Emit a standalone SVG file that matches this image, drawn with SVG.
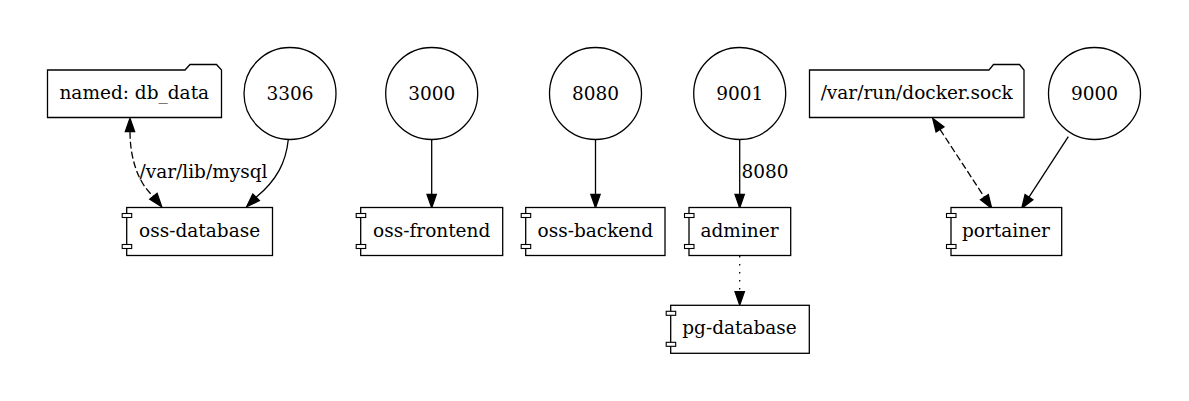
<svg xmlns="http://www.w3.org/2000/svg" width="1189" height="401" viewBox="0 0 1189 401">
<style>
  .bg { fill: #ffffff; }
  .shape { fill: #ffffff; stroke: #000000; stroke-width: 1.3; }
  .tab { fill: #ffffff; stroke: #000000; stroke-width: 1.1; }
  .edge { fill: none; stroke: #000000; stroke-width: 1.3; }
  .dashed { stroke-dasharray: 7 3; }
  .dotted { stroke-dasharray: 1.4 6.6; }
  .head { fill: #000000; stroke: #000000; stroke-width: 1.3; }
  text { font-family: "DejaVu Serif", "Liberation Serif", serif; font-size: 18.5px; fill: #000000; }
  .c { text-anchor: middle; }
</style>
<rect class="bg" x="0" y="0" width="1189" height="401"/>

<g id="connectors">
  <!-- db_data <-> oss-database -->
  <g id="e-dbdata-ossdb">
    <path class="edge dashed" d="M130,131.6 C130,158 138,183 153.4,196.3"/>
    <polygon class="head" points="134.67,131.6 130,118.3 125.33,131.6"/>
    <polygon class="head" points="149.77,199.19 161.7,206.7 157.09,193.39"/>
    <text x="139.5" y="178">/var/lib/mysql</text>
  </g>
  <!-- 3306 -> oss-database -->
  <g id="e-3306-ossdb">
    <path class="edge" d="M288.3,139.5 C286,162 277,180 256.1,197.3"/>
    <polygon class="head" points="252.8,194 246.7,206.7 259.4,200.6"/>
  </g>
  <!-- 3000 -> oss-frontend -->
  <g id="e-3000-front">
    <path class="edge" d="M431.7,139.5 L431.7,194.4"/>
    <polygon class="head" points="436.37,194.4 431.7,207.7 427.03,194.4"/>
  </g>
  <!-- 8080 -> oss-backend -->
  <g id="e-8080-back">
    <path class="edge" d="M595.5,139.5 L595.5,194.4"/>
    <polygon class="head" points="600.17,194.4 595.5,207.7 590.83,194.4"/>
  </g>
  <!-- 9001 -> adminer -->
  <g id="e-9001-adminer">
    <path class="edge" d="M739.7,139.5 L739.7,194.4"/>
    <polygon class="head" points="744.37,194.4 739.7,207.7 735.03,194.4"/>
    <text x="741.5" y="177.7">8080</text>
  </g>
  <!-- adminer -> pg-database -->
  <g id="e-adminer-pg">
    <path class="edge dotted" d="M739.7,256 L739.7,291.7"/>
    <polygon class="head" points="744.37,291.7 739.7,305 735.03,291.7"/>
  </g>
  <!-- docker.sock <-> portainer -->
  <g id="e-sock-portainer">
    <path class="edge dashed" d="M940,129.4 L984.4,197.2"/>
    <polygon class="head" points="943.89,126.86 932.7,118.3 936.09,131.98"/>
    <polygon class="head" points="980.51,199.74 991.7,208.3 988.31,194.62"/>
  </g>
  <!-- 9000 -> portainer -->
  <g id="e-9000-portainer">
    <path class="edge" d="M1068.3,136.7 L1029,197.15"/>
    <polygon class="head" points="1025.05,194.6 1021.7,208.3 1032.87,199.7"/>
  </g>
</g>

<!-- Volume folders -->
<g id="vol-db_data">
  <path class="shape" d="M47.5,117.5 L47.5,70 L185,70 L190,64.5 L216.5,64.5 L221.5,70 L221.5,117.5 Z"/>
  <text class="c" x="134.3" y="99">named: db_data</text>
</g>
<g id="vol-docker-sock">
  <path class="shape" d="M809.5,117.5 L809.5,70 L989,70 L993.5,64.5 L1019.5,64.5 L1024,70 L1024,117.5 Z"/>
  <text class="c" x="916.7" y="99.3">/var/run/docker.sock</text>
</g>

<!-- Ports -->
<g id="port-3306">
  <circle class="shape" cx="290" cy="93.5" r="46"/>
  <text class="c" x="290" y="99.7">3306</text>
</g>
<g id="port-3000">
  <circle class="shape" cx="431.7" cy="93.5" r="46"/>
  <text class="c" x="431.7" y="99.7">3000</text>
</g>
<g id="port-8080">
  <circle class="shape" cx="595.5" cy="93.5" r="46"/>
  <text class="c" x="595.5" y="99.7">8080</text>
</g>
<g id="port-9001">
  <circle class="shape" cx="739.7" cy="93.5" r="46"/>
  <text class="c" x="739.7" y="99.7">9001</text>
</g>
<g id="port-9000">
  <circle class="shape" cx="1094.5" cy="93.5" r="46"/>
  <text class="c" x="1094.5" y="99.7">9000</text>
</g>

<!-- Components -->
<g id="oss-database">
  <rect class="shape" x="126.7" y="207.5" width="145.8" height="48"/>
  <rect class="tab" x="122.2" y="213.5" width="9.5" height="4"/>
  <rect class="tab" x="122.2" y="244.5" width="9.5" height="4"/>
  <text class="c" x="199.6" y="236.9">oss-database</text>
</g>
<g id="oss-frontend">
  <rect class="shape" x="360.7" y="207.5" width="142" height="48"/>
  <rect class="tab" x="356.2" y="213.5" width="9.5" height="4"/>
  <rect class="tab" x="356.2" y="244.5" width="9.5" height="4"/>
  <text class="c" x="431.7" y="236.9">oss-frontend</text>
</g>
<g id="oss-backend">
  <rect class="shape" x="525.7" y="207.5" width="139.3" height="48"/>
  <rect class="tab" x="521.2" y="213.5" width="9.5" height="4"/>
  <rect class="tab" x="521.2" y="244.5" width="9.5" height="4"/>
  <text class="c" x="595.3" y="236.9">oss-backend</text>
</g>
<g id="adminer">
  <rect class="shape" x="689" y="207.5" width="101.7" height="48"/>
  <rect class="tab" x="684.5" y="213.5" width="9.5" height="4"/>
  <rect class="tab" x="684.5" y="244.5" width="9.5" height="4"/>
  <text class="c" x="739.5" y="236.9">adminer</text>
</g>
<g id="pg-database">
  <rect class="shape" x="670.7" y="305.3" width="138.6" height="48"/>
  <rect class="tab" x="666.2" y="311.3" width="9.5" height="4"/>
  <rect class="tab" x="666.2" y="342.3" width="9.5" height="4"/>
  <text class="c" x="739.5" y="333.7">pg-database</text>
</g>
<g id="portainer">
  <rect class="shape" x="951" y="207.5" width="110.7" height="48"/>
  <rect class="tab" x="946.5" y="213.5" width="9.5" height="4"/>
  <rect class="tab" x="946.5" y="244.5" width="9.5" height="4"/>
  <text class="c" x="1006" y="236.9">portainer</text>
</g>
</svg>
